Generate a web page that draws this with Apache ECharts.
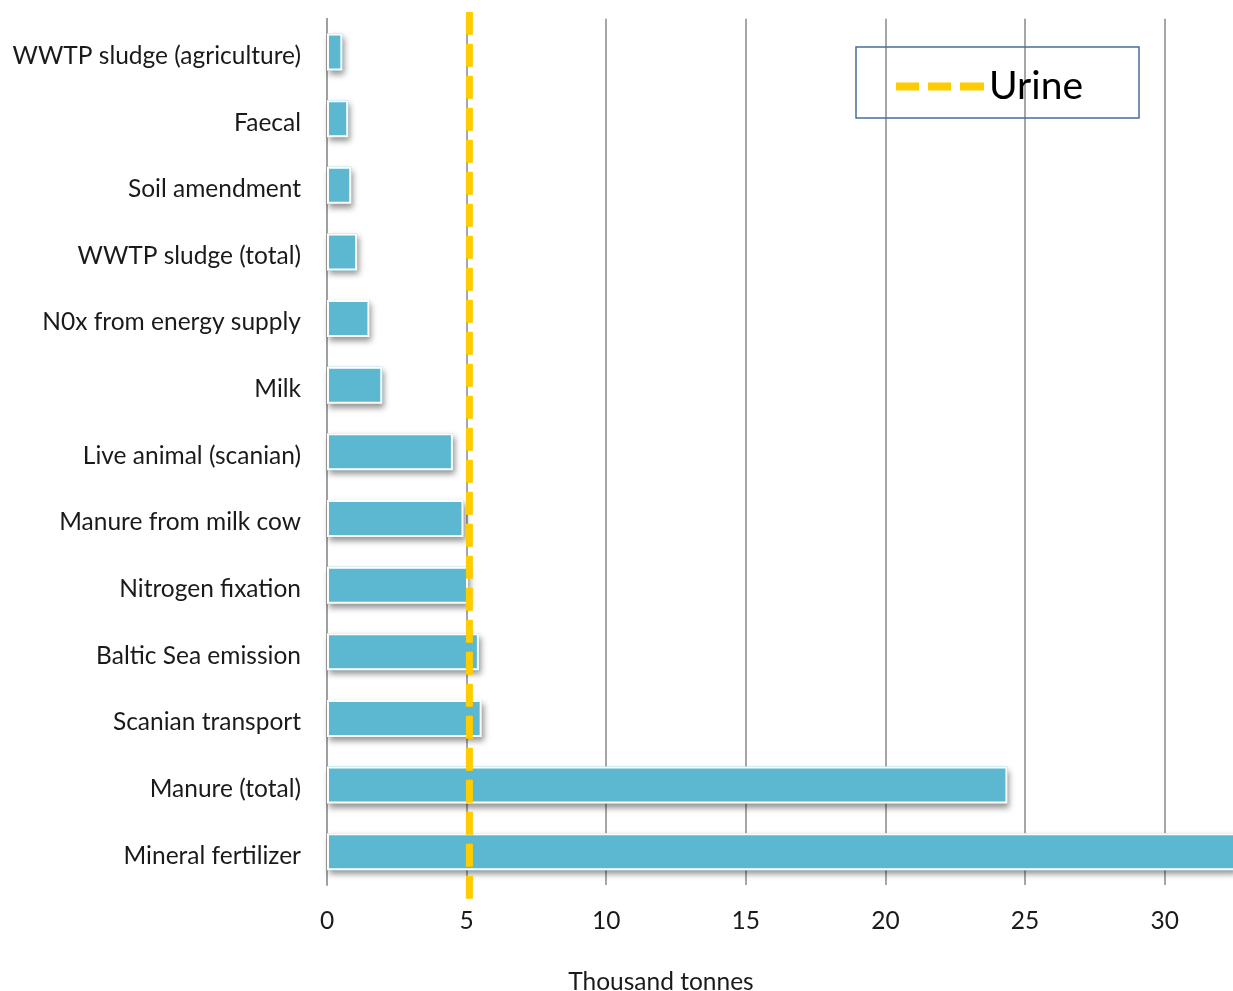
<!DOCTYPE html>
<html>
<head>
<meta charset="utf-8">
<script src="https://cdn.jsdelivr.net/npm/echarts@6/dist/echarts.min.js"></script>
<style>
  html, body { margin: 0; padding: 0; background: #fff; }
  #chart { width: 1233px; height: 991px; }
</style>
</head>
<body>
<div id="chart"></div>
<script>
// Nitrogen flows, thousand tonnes
const categories = [
  'WWTP sludge (agriculture)',
  'Faecal',
  'Soil amendment',
  'WWTP sludge (total)',
  'N0x from energy supply',
  'Milk',
  'Live animal (scanian)',
  'Manure from milk cow',
  'Nitrogen fixation',
  'Baltic Sea emission',
  'Scanian transport',
  'Manure (total)',
  'Mineral fertilizer'
];
const flowValues = [0.55, 0.76, 0.87, 1.08, 1.52, 1.98, 4.51, 4.89, 5.05, 5.44, 5.54, 24.37, 34];
const urineValue = 5.1;
const xTicks = [0, 5, 10, 15, 20, 25, 30];

const FONT = 'Lato';
const BAR_COLOR = '#5BB8D0';
const URINE_COLOR = '#FFCC00';
const chart = echarts.init(document.getElementById('chart'), null, { renderer: 'canvas' });

chart.setOption({
  backgroundColor: '#ffffff',
  animation: false,
  textStyle: { fontFamily: FONT },
  grid: {
    left: 327, right: -2, top: 18.7, bottom: 106,
    containLabel: false,
    outerBoundsMode: 'none'
  },
  legend: {
    data: ['Urine'],
    left: 856,
    top: 47,
    padding: [20, 56, 12, 40],
    borderColor: '#4A6C9B',
    borderWidth: 1.5,
    itemWidth: 88,
    itemHeight: 8,
    icon: 'path://M0,0h23v8h-23z M32,0h23v8h-23z M64,0h24v8h-24z',
    textStyle: { fontFamily: FONT, fontSize: 39, color: '#000' }
  },
  xAxis: {
    type: 'value',
    min: xTicks[0],
    max: 32.52,
    interval: xTicks[1] - xTicks[0],
    name: 'Thousand tonnes',
    nameLocation: 'middle',
    nameGap: 85,
    nameTextStyle: { fontFamily: FONT, fontSize: 24.5, color: '#1a1a1a', padding: [0, 240, 0, 0] },
    axisLine: { show: false },
    axisTick: { show: false },
    axisLabel: { fontFamily: FONT, fontSize: 24.5, color: '#1a1a1a', margin: 24, showMaxLabel: false },
    splitLine: { show: true, lineStyle: { color: '#a6a6a6', width: 2 } }
  },
  yAxis: [
    {
      type: 'category',
      data: categories,
      inverse: true,
      axisLine: { show: true, lineStyle: { color: '#a0a0a0', width: 2 } },
      axisTick: { show: false },
      axisLabel: {
        fontFamily: FONT, fontSize: 24.5, color: '#1a1a1a', margin: 26,
        // labels sit a few pixels below the bar centre
        verticalAlign: 'top', lineHeight: 8
      },
      splitLine: { show: false }
    },
    {
      type: 'value',
      min: 0,
      max: 1,
      show: false,
      splitLine: { show: false }
    }
  ],
  series: [
    {
      // soft drop shadow behind each bar
      name: 'Flows shadow',
      type: 'bar',
      yAxisIndex: 0,
      data: flowValues,
      barWidth: 37,
      clip: true,
      silent: true,
      z: 1,
      itemStyle: {
        color: BAR_COLOR,
        shadowColor: 'rgba(0,0,0,0.42)',
        shadowBlur: 6,
        shadowOffsetX: 2,
        shadowOffsetY: 4
      }
    },
    {
      name: 'Flows',
      type: 'bar',
      yAxisIndex: 0,
      data: flowValues,
      barWidth: 37,
      barGap: '-100%',
      clip: true,
      z: 2,
      itemStyle: {
        color: BAR_COLOR,
        borderColor: '#ffffff',
        borderWidth: 2
      }
    },
    {
      name: 'Urine',
      type: 'line',
      yAxisIndex: 1,
      data: [[urineValue, -0.016], [urineValue, 1.0077]],
      clip: false,
      symbol: 'none',
      lineStyle: { color: URINE_COLOR, width: 7, type: [23, 9] },
      itemStyle: { color: URINE_COLOR },
      z: 5
    }
  ]
});
</script>
</body>
</html>
